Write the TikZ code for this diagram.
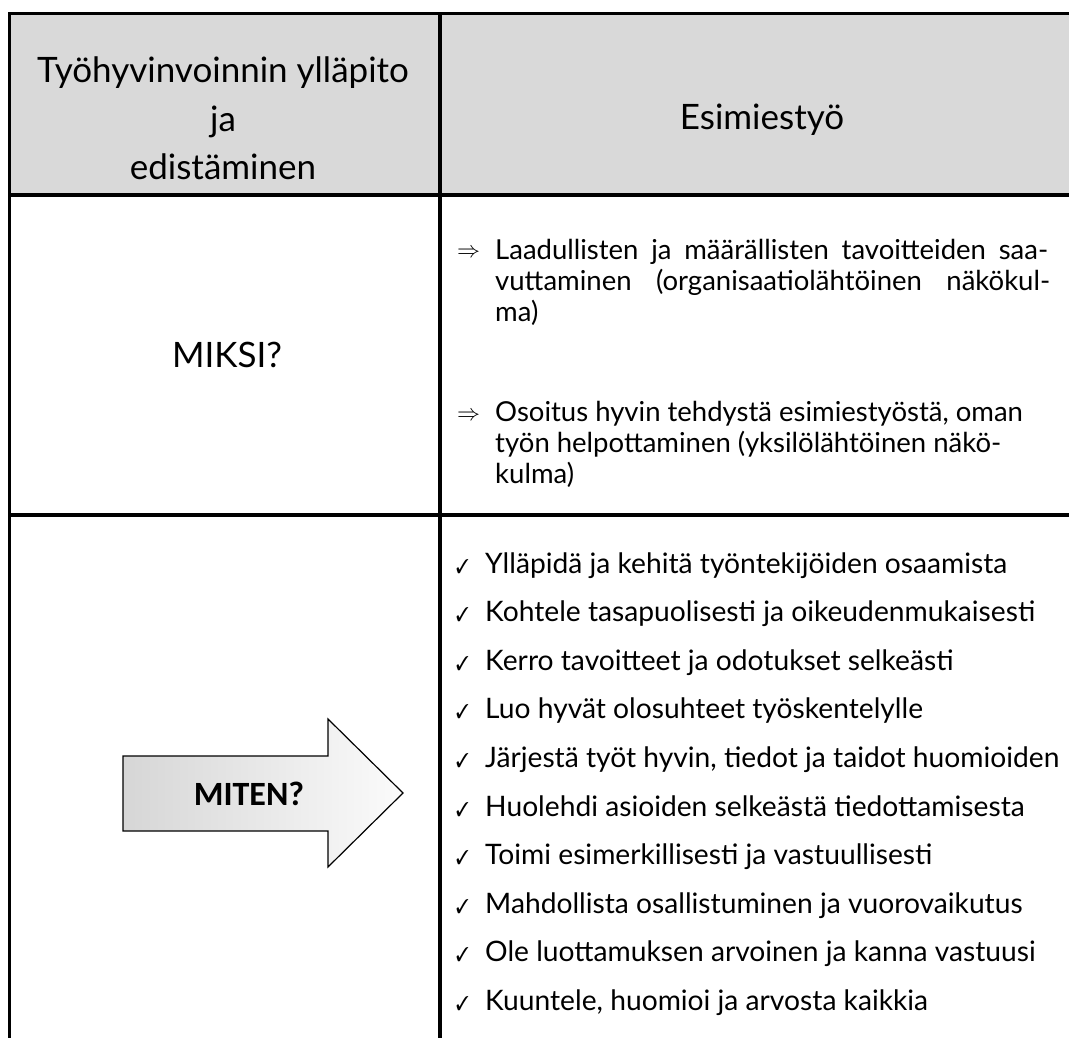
\documentclass[tikz,border=0pt]{standalone}
\usepackage{fontspec}
\usepackage{pifont}
\usepackage{graphicx}
\setmainfont{Lato}
\newfontfamily\calfont{Carlito}
\definecolor{headgray}{HTML}{D9D9D9}
\definecolor{shadeleft}{HTML}{D6D6D6}
\definecolor{shaderight}{HTML}{FBFBFB}

\begin{document}
\begin{tikzpicture}[x=1pt,y=-1pt,
  rule/.style={line width=3.6pt, line cap=rect},
  headline/.style={font=\fontsize{35}{48.5}\selectfont, anchor=base, inner sep=0pt},
  reason/.style={font=\fontsize{27.5}{32}\selectfont, anchor=base west, inner sep=0pt},
  impliesmark/.style={anchor=base west, inner sep=0pt},
  checkitem/.style={font=\fontsize{28.2}{34}\selectfont, anchor=base west, inner sep=0pt},
  tickmark/.style={anchor=base west, inner sep=0pt},
  bigarrow/.style={line width=1.2pt, line join=miter, left color=shadeleft, right color=shaderight}
]
\useasboundingbox (0,0) rectangle (1069,1038);
\clip (0,0) rectangle (1069,1038);

% header band
\fill[headgray] (9.5,13.5) rectangle (1080,195);

% table rules
\draw[rule] (9.5,1060) -- (9.5,13.5) -- (1080,13.5);
\draw[rule] (9.5,195) -- (1080,195);
\draw[rule] (9.5,515) -- (1080,515);
\draw[rule] (440,13.5) -- (440,1060);

% header texts
\node[headline] (h1a) at (223,83) {Työhyvinvoinnin ylläpito};
\node[headline] (h1b) at (223,131.5) {ja};
\node[headline] (h1c) at (223,180) {edistäminen};
\node[headline] (h2) at (762,130) {Esimiestyö};

% first row
\node[headline] (miksi) at (227,367) {MIKSI?};

\node[impliesmark] (imp1) at (457,258) {\scalebox{2.3}{$\Rightarrow$}};
\node[reason] (r1a) at (495,259) {\makebox[553pt][s]{Laadullisten ja määrällisten tavoitteiden saa-}};
\node[reason] (r1b) at (495,290) {\makebox[555pt][s]{vuttaminen (organisaatiolähtöinen näkökul-}};
\node[reason] (r1c) at (495,321) {ma)};

\node[impliesmark] (imp2) at (457,420) {\scalebox{2.3}{$\Rightarrow$}};
\node[reason] (r2a) at (495,421) {Osoitus hyvin tehdystä esimiestyöstä, oman};
\node[reason] (r2b) at (495,452) {työn helpottaminen (yksilölähtöinen näkö-};
\node[reason] (r2c) at (495,483) {kulma)};

% second row: arrow with label
\draw[bigarrow] (123,756) -- (328,756) -- (328,719) -- (403,793)
  -- (328,867) -- (328,831) -- (123,831) -- cycle;
\node[font=\calfont\bfseries\fontsize{34}{40}\selectfont, anchor=base, inner sep=0pt]
  (miten) at (249,805) {MITEN?};

% checklist
\foreach \txt [count=\i from 0] in {
  Ylläpidä ja kehitä työntekijöiden osaamista,
  Kohtele tasapuolisesti ja oikeudenmukaisesti,
  Kerro tavoitteet ja odotukset selkeästi,
  Luo hyvät olosuhteet työskentelylle,
  {Järjestä työt hyvin, tiedot ja taidot huomioiden},
  Huolehdi asioiden selkeästä tiedottamisesta,
  Toimi esimerkillisesti ja vastuullisesti,
  Mahdollista osallistuminen ja vuorovaikutus,
  Ole luottamuksen arvoinen ja kanna vastuusi,
  {Kuuntele, huomioi ja arvosta kaikkia}}
{
  \pgfmathsetmacro{\yy}{573+48.6*\i}
  \node[tickmark] (tick\i) at (456,\yy) {\scalebox{1.7}[2.0]{\ding{51}}};
  \node[checkitem] (item\i) at (485,\yy) {\txt};
}
\end{tikzpicture}
\end{document}
